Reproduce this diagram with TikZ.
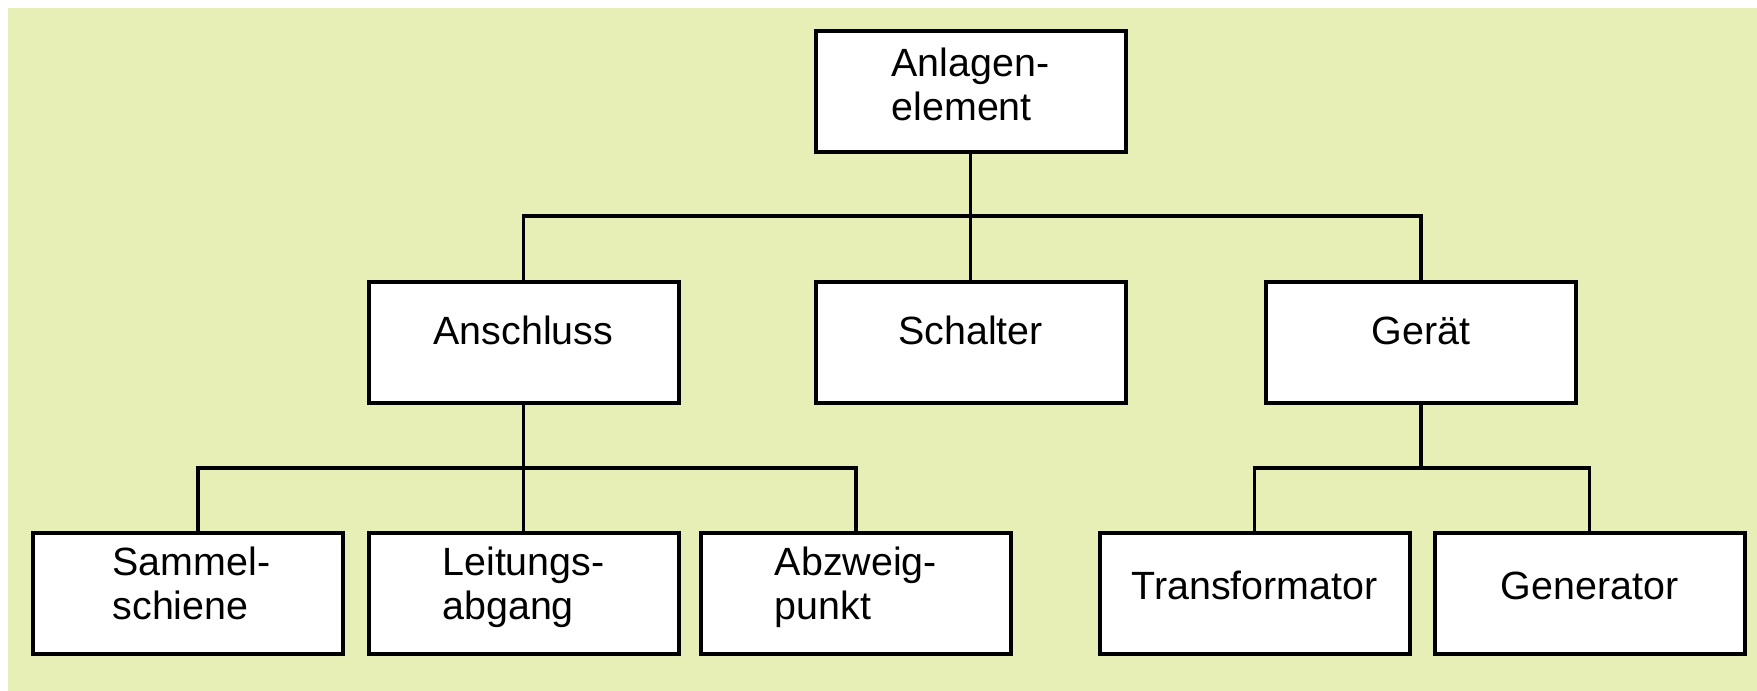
\documentclass[tikz,border=0pt]{standalone}
\usepackage{fontspec}
\setmainfont{Liberation Sans}
\usepackage{tikz}
\usepackage{xcolor}
\definecolor{bggreen}{RGB}{231,239,183}

\begin{document}
\begin{tikzpicture}[x=0.5pt,y=-0.5pt,
    elem/.style={draw,line width=2pt,fill=white,minimum width=155pt,minimum height=60.5pt,
      inner sep=0pt,align=left,font=\fontsize{19.7}{22}\selectfont},
    oneline/.style={elem,text height=11pt,text depth=9pt},
    twoline/.style={elem,text height=33pt,text depth=7pt},
    link/.style={line width=1.6pt}]
            \useasboundingbox (0,0) rectangle (1757,691);
            \fill[bggreen] (8,8) rectangle (1757,691);
            \node[elem,text height=34pt,text depth=5.5pt] (anlage) at (970.5,91.5) {Anlagen-\\element};
            \node[oneline] (anschluss) at (523.5,342) {Anschluss};
            \node[oneline] (schalter) at (970.5,342) {Schalter};
            \node[oneline] (geraet) at (1421,342) {Gerät};
            \node[twoline] (sammel) at (188,593) {\hspace*{3.5pt}Sammel-\\\hspace*{3.5pt}schiene};
            \node[twoline] (leitung) at (523.5,593) {Leitungs-\\abgang};
            \node[twoline] (abzweig) at (856,593) {Abzweig-\\punkt};
            \node[elem,text height=13pt,text depth=7pt] (trafo) at (1254.5,593) {Transformator};
            \node[elem,text height=13pt,text depth=7pt] (generator) at (1589.5,593) {Generator};
            \coordinate (bus1) at (970.5,216);
            \coordinate (bus2) at (523.5,468);
            \coordinate (bus3) at (1421,468);
            \draw[link] (anlage.south) -- (schalter.north);
            \draw[link] (anschluss.north) |- (bus1) -| (geraet.north);
            \draw[link] (anschluss.south) -- (leitung.north);
            \draw[link] ([xshift=5pt]sammel.north) |- (bus2) -| (abzweig.north);
            \draw[link] (geraet.south) -- (bus3);
            \draw[link] (trafo.north) |- (bus3) -| (generator.north);
\end{tikzpicture}
\end{document}
